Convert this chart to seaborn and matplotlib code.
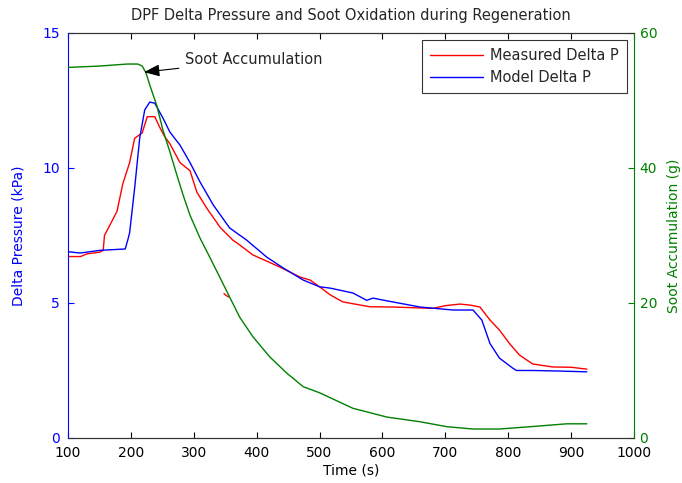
import matplotlib
matplotlib.use("Agg")
import matplotlib.pyplot as plt
import seaborn as sns
import pandas as pd

# Measured delta pressure (kPa)
meas_t = [100, 120, 130, 150, 156, 158, 167, 178, 187, 198, 206, 218, 226, 238,
          246, 254, 262, 278, 294, 305, 321, 342, 362, 373, 394, 437, 469, 485, 500, 517, 537,
          580, 617, 680, 700, 723, 740, 755, 771, 786, 802, 818, 839, 871, 900, 925]
meas_p = [6.72, 6.72, 6.82, 6.88, 6.95, 7.5, 7.9, 8.4, 9.4, 10.2, 11.1, 11.3, 11.9, 11.9,
          11.5, 11.15, 10.9, 10.2, 9.9, 9.1, 8.5, 7.8, 7.33, 7.15, 6.78, 6.33, 5.96, 5.85, 5.6, 5.3, 5.04,
          4.86, 4.85, 4.8, 4.9, 4.96, 4.92, 4.85, 4.37, 4.0, 3.5, 3.07, 2.74, 2.63, 2.62, 2.55]

# Stray measured fragment
frag_t = [348, 352, 356]
frag_p = [5.35, 5.27, 5.22]

# Model delta pressure (kPa)
model_t = [100, 119, 151, 191, 195, 198, 206, 214, 222, 230, 238, 251, 262, 278, 294, 310,
           331, 357, 384, 416, 442, 474, 500, 517, 553, 575, 585, 607, 660, 712, 744, 758, 771,
           786, 807, 813, 839, 880, 925]
model_p = [6.9, 6.85, 6.95, 7.0, 7.33, 7.6, 9.26, 11.1, 12.15, 12.44, 12.4, 11.85, 11.33, 10.85, 10.2, 9.48,
           8.63, 7.78, 7.33, 6.7, 6.3, 5.85, 5.6, 5.55, 5.37, 5.1, 5.18, 5.08, 4.85, 4.74, 4.74, 4.37, 3.5,
           2.96, 2.59, 2.5, 2.5, 2.48, 2.45]

# Soot accumulation (g)
soot_t = [100, 150, 194, 211, 218, 224, 230, 241, 251, 262, 273, 283, 294, 310, 321, 342, 358,
          373, 394, 421, 448, 474, 500, 553, 607, 660, 702, 744, 786, 839, 893, 925]
soot_g = [54.9, 55.1, 55.4, 55.4, 55.1, 54.1, 52.3, 49.3, 45.6, 42.4, 39.0, 36.0, 33.0, 29.6, 27.6, 23.7, 20.7,
          17.9, 15.0, 12.0, 9.6, 7.6, 6.7, 4.4, 3.1, 2.4, 1.68, 1.33, 1.33, 1.7, 2.1, 2.1]

sns.set_style("white")
plt.rcParams['font.family'] = ['DejaVu Sans']

fig = plt.figure(figsize=(6.82, 4.83), dpi=100)
ax = fig.add_axes([0.0997, 0.0932, 0.8299, 0.8385])
ax2 = ax.twinx()

df_m = pd.DataFrame({"t": meas_t, "p": meas_p})
df_mod = pd.DataFrame({"t": model_t, "p": model_p})
df_f = pd.DataFrame({"t": frag_t, "p": frag_p})
df_s = pd.DataFrame({"t": soot_t, "g": soot_g})

sns.lineplot(data=df_m, x="t", y="p", ax=ax, color="#ff0000", lw=1.0, label="Measured Delta P", sort=False)
sns.lineplot(data=df_mod, x="t", y="p", ax=ax, color="#0000ff", lw=1.0, label="Model Delta P", sort=False)
sns.lineplot(data=df_f, x="t", y="p", ax=ax, color="#ff0000", lw=1.0, sort=False, legend=False)
sns.lineplot(data=df_s, x="t", y="g", ax=ax2, color="#008000", lw=1.0, sort=False, legend=False)

ax.set_xlim(100, 1000)
ax.set_ylim(0, 15)
ax2.set_ylim(0, 60)
ax.set_xticks(range(100, 1001, 100))
ax.set_yticks([0, 5, 10, 15])
ax2.set_yticks([0, 20, 40, 60])

fs = 10
ax.set_xlabel("Time (s)", fontsize=fs, color="black", labelpad=2)
ax.set_ylabel("Delta Pressure (kPa)", fontsize=fs, color="#0000ff", labelpad=12)
ax2.set_ylabel("Soot Accumulation (g)", fontsize=fs, color="#008000", labelpad=7)
ax.set_title("DPF Delta Pressure and Soot Oxidation during Regeneration", fontsize=fs + 0.5, pad=9)

ax.tick_params(axis="x", direction="in", length=4, labelsize=fs, colors="black", top=True, bottom=True, pad=6)
ax.tick_params(axis="y", direction="in", length=4, labelsize=fs, colors="#0000ff", left=True, pad=6)
ax2.tick_params(axis="y", direction="in", length=4, labelsize=fs, colors="#008000", right=True, pad=4)
ax2.tick_params(axis="x", top=False)

for a in (ax, ax2):
    for s in a.spines.values():
        s.set_linewidth(0.8)
        s.set_color("#333333")
ax.spines["left"].set_color("#0000ff")
ax2.spines["left"].set_visible(False)
ax2.spines["right"].set_color("#008000")
ax.spines["right"].set_visible(False)

leg = ax.legend(loc="upper right", fontsize=fs + 0.5, frameon=True, fancybox=False,
                edgecolor="black", borderaxespad=0.5, handlelength=3.6, borderpad=0.55,
                labelspacing=0.45, handletextpad=0.5)
leg.get_frame().set_linewidth(0.8)

ax2.annotate("Soot Accumulation", xy=(221, 54.2), xytext=(286, 56.0), fontsize=fs + 0.5,
             va="center", ha="left",
             arrowprops=dict(arrowstyle="-|>,head_length=0.9,head_width=0.35", color="black", lw=0.8,
                             shrinkA=2, shrinkB=0))

fig.savefig("out.png", dpi=100)
